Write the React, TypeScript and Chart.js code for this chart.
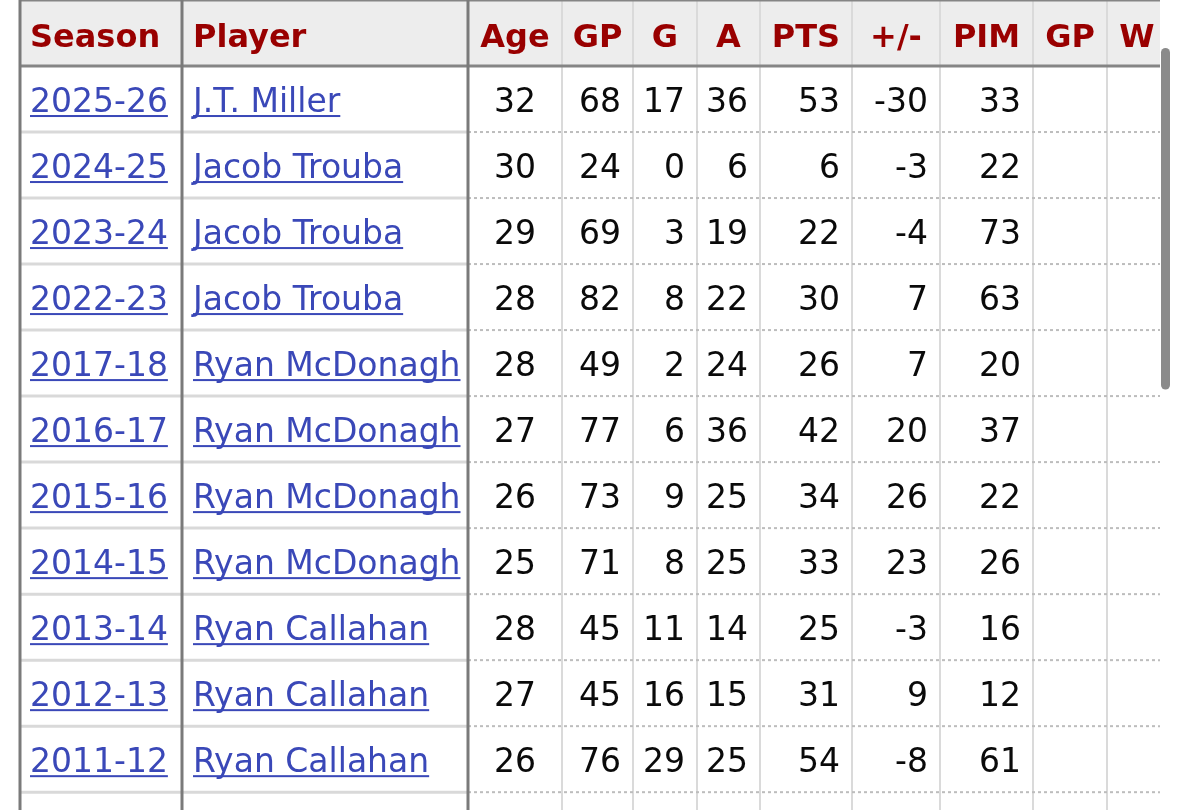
import React, { useEffect, useRef } from 'react';
import { Chart, registerables } from 'chart.js';

Chart.register(...registerables);

// ---------- data ----------
const headers = ['Season', 'Player', 'Age', 'GP', 'G', 'A', 'PTS', '+/-', 'PIM', 'GP', 'W'];
const seasons = ['2025-26', '2024-25', '2023-24', '2022-23', '2017-18', '2016-17', '2015-16', '2014-15', '2013-14', '2012-13', '2011-12'];
const players = ['J.T. Miller', 'Jacob Trouba', 'Jacob Trouba', 'Jacob Trouba', 'Ryan McDonagh', 'Ryan McDonagh', 'Ryan McDonagh', 'Ryan McDonagh', 'Ryan Callahan', 'Ryan Callahan', 'Ryan Callahan'];
const ages = [32, 30, 29, 28, 28, 27, 26, 25, 28, 27, 26];
const gamesPlayed = [68, 24, 69, 82, 49, 77, 73, 71, 45, 45, 76];
const goals = [17, 0, 3, 8, 2, 6, 9, 8, 11, 16, 29];
const assists = [36, 6, 19, 22, 24, 36, 25, 25, 14, 15, 25];
const points = [53, 6, 22, 30, 26, 42, 34, 33, 25, 31, 54];
const plusMinus = [-30, -3, -4, 7, 7, 20, 26, 23, -3, 9, -8];
const penaltyMinutes = [33, 22, 73, 63, 20, 37, 22, 26, 16, 12, 61];
const goalieGP: (number | null)[] = [null, null, null, null, null, null, null, null, null, null, null];
const goalieW: (number | null)[] = [null, null, null, null, null, null, null, null, null, null, null];

// ---------- layout / style ----------
const TABLE_LEFT = 19;
const TABLE_CLIP = 1160;
const colWidths = [163, 286, 94, 71, 64, 63, 92, 88, 93, 74, 60];
const colAlign = ['left', 'left', 'center', 'right', 'right', 'right', 'right', 'right', 'right', 'right', 'right'];
const FONT = '"DejaVu Sans", Verdana, sans-serif';
const HEADER_COLOR = '#990000';
const LINK_COLOR = '#3a48b8';
const TEXT_COLOR = '#0a0a0a';

const tablePlugin = {
  id: 'statTable',
  afterDraw(chart: any) {
    const ctx: CanvasRenderingContext2D = chart.ctx;
    const xs = chart.scales.x;
    const ys = chart.scales.y;
    const H = chart.height;
    const X = (v: number) => xs.getPixelForValue(v);
    const Y = (v: number) => ys.getPixelForValue(v);

    const edges: number[] = [TABLE_LEFT];
    colWidths.forEach((w) => edges.push(edges[edges.length - 1] + w));
    const ex = edges.map(X);
    const clipX = X(TABLE_CLIP);

    const columns: (string | number | null)[][] = [
      seasons, players, ages, gamesPlayed, goals, assists, points, plusMinus, penaltyMinutes, goalieGP, goalieW,
    ];
    const nRows = seasons.length;
    const totalRows = nRows + 2; // header + data + partial row

    ctx.save();
    ctx.beginPath();
    ctx.rect(0, 0, clipX, H);
    ctx.clip();

    // header background
    const headerBottom = Y(0.5);
    ctx.fillStyle = '#ededed';
    ctx.fillRect(ex[0], 0, clipX - ex[0], headerBottom);

    // light vertical separators (numeric columns)
    ctx.strokeStyle = '#dadada';
    ctx.lineWidth = 2;
    for (let c = 3; c < edges.length; c++) {
      ctx.beginPath();
      ctx.moveTo(ex[c], 0);
      ctx.lineTo(ex[c], H);
      ctx.stroke();
    }

    // horizontal row separators
    for (let r = 1; r < totalRows; r++) {
      const y = Y(r + 0.5);
      ctx.setLineDash([]);
      ctx.strokeStyle = '#d9d9d9';
      ctx.lineWidth = 3;
      ctx.beginPath();
      ctx.moveTo(ex[0], y);
      ctx.lineTo(ex[2], y);
      ctx.stroke();
      ctx.setLineDash([3, 3]);
      ctx.strokeStyle = '#bdbdbd';
      ctx.lineWidth = 2;
      ctx.beginPath();
      ctx.moveTo(ex[2], y);
      ctx.lineTo(clipX, y);
      ctx.stroke();
    }
    ctx.setLineDash([]);

    // header borders
    ctx.strokeStyle = '#858585';
    ctx.lineWidth = 3;
    ctx.beginPath();
    ctx.moveTo(ex[0], headerBottom);
    ctx.lineTo(clipX, headerBottom);
    ctx.stroke();
    ctx.lineWidth = 2;
    ctx.beginPath();
    ctx.moveTo(ex[0], 0.5);
    ctx.lineTo(clipX, 0.5);
    ctx.stroke();

    // dark vertical borders
    ctx.strokeStyle = '#7a7a7a';
    ctx.lineWidth = 3;
    [0, 1, 2].forEach((c) => {
      const x = ex[c] + (c === 0 ? 1 : 0);
      ctx.beginPath();
      ctx.moveTo(x, 0);
      ctx.lineTo(x, H);
      ctx.stroke();
    });

    // header text
    ctx.font = `bold 32px ${FONT}`;
    ctx.fillStyle = HEADER_COLOR;
    ctx.textBaseline = 'alphabetic';
    const hb = Y(0) + 14;
    headers.forEach((h, c) => {
      const align = c < 2 ? 'left' : 'center';
      ctx.textAlign = align as CanvasTextAlign;
      const x = align === 'left' ? ex[c] + 11 : (ex[c] + ex[c + 1]) / 2;
      ctx.fillText(h, x, hb);
    });

    // body text
    ctx.font = `33px ${FONT}`;
    for (let r = 0; r < nRows; r++) {
      const base = Y(r + 1) + 13;
      columns.forEach((col, c) => {
        const v = col[r];
        if (v === null || v === undefined) return;
        const text = String(v);
        const align = colAlign[c];
        let x: number;
        if (align === 'left') x = ex[c] + 11;
        else if (align === 'center') x = (ex[c] + ex[c + 1]) / 2;
        else x = ex[c + 1] - 12;
        ctx.textAlign = align as CanvasTextAlign;
        ctx.fillStyle = c < 2 ? LINK_COLOR : TEXT_COLOR;
        ctx.fillText(text, x, base);
        if (c < 2) {
          const w = ctx.measureText(text).width;
          ctx.fillRect(x, base + 3, w, 2);
        }
      });
    }
    ctx.restore();

    // scrollbar
    ctx.save();
    ctx.fillStyle = '#8a8a8a';
    const sx = X(1161);
    const sw = 9;
    const sy = Y(0.5) - 18;
    const sh = Y(5.4) - sy;
    ctx.beginPath();
    (ctx as any).roundRect ? (ctx as any).roundRect(sx, sy, sw, sh, 4.5) : ctx.rect(sx, sy, sw, sh);
    ctx.fill();
    ctx.restore();
  },
};

export default function App() {
  const ref = useRef<HTMLCanvasElement | null>(null);
  useEffect(() => {
    if (!ref.current) return;
    const chart = new Chart(ref.current, {
      type: 'scatter',
      data: { datasets: [] },
      options: {
        animation: false,
        responsive: false,
        maintainAspectRatio: false,
        layout: { padding: 0 },
        scales: {
          x: { type: 'linear', min: 0, max: 1179, display: false },
          y: { type: 'linear', reverse: true, min: -0.5, max: 11.77, display: false },
        },
        plugins: { legend: { display: false }, tooltip: { enabled: false } },
      },
      plugins: [
        {
          id: 'bg',
          beforeDraw(c: any) {
            c.ctx.save();
            c.ctx.fillStyle = '#ffffff';
            c.ctx.fillRect(0, 0, c.width, c.height);
            c.ctx.restore();
          },
        },
        tablePlugin,
      ],
    });
    return () => chart.destroy();
  }, []);
  return (
    <div style={{ position: 'absolute', left: 0, top: 0, width: 1179, height: 810, background: '#fff' }}>
      <canvas ref={ref} width={1179} height={810} style={{ display: 'block' }} />
    </div>
  );
}
